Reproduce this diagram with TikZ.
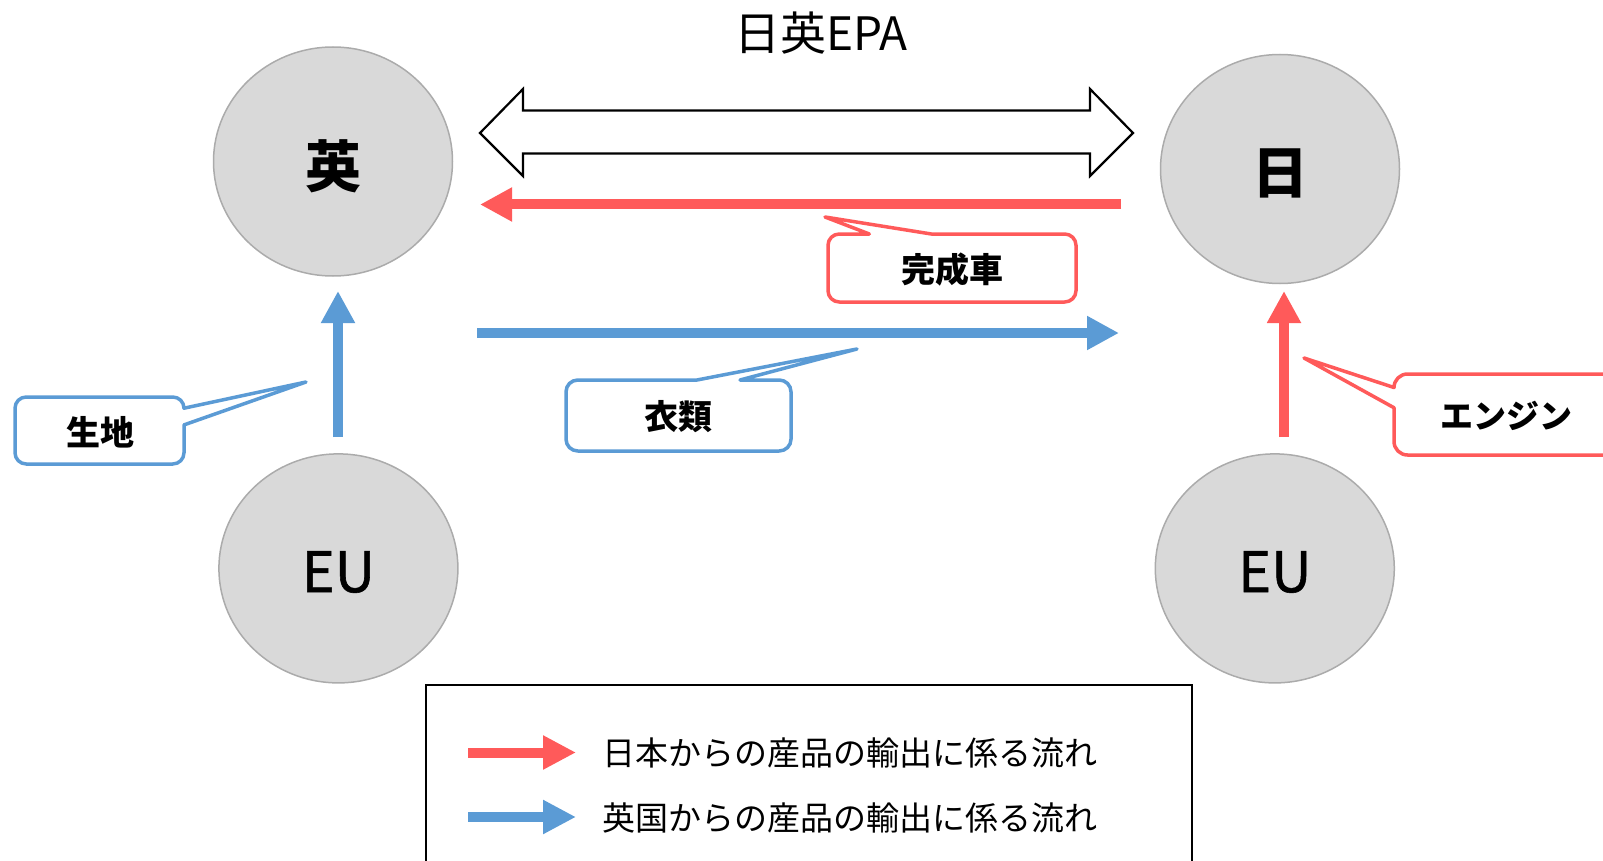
\documentclass[tikz,border=0pt]{standalone}
\usepackage{fontspec}
\setmainfont{Noto Sans CJK JP}
\newfontfamily\eufont[FakeBold=1]{Noto Sans CJK JP}
\usetikzlibrary{arrows.meta,shapes.geometric}
\definecolor{redc}{HTML}{FF5A5A}
\definecolor{bluec}{HTML}{5B9BD5}
\definecolor{circfill}{HTML}{D9D9D9}
\definecolor{circline}{HTML}{ABABAB}
\begin{document}
\begin{tikzpicture}[x=1pt,y=-1pt,
  country/.style={ellipse,draw=circline,fill=circfill,line width=1.5pt,
    minimum width=239pt,minimum height=229pt,inner sep=0pt},
  bigcjk/.style={font=\fontsize{56}{60}\selectfont\bfseries},
  biglat/.style={font=\fontsize{56}{60}\eufont},
  redflow/.style={redc,line width=10pt,-{Triangle[length=32pt,width=32pt]}},
  blueflow/.style={bluec,line width=10pt,-{Triangle[length=32pt,width=32pt]}},
  legred/.style={redc,line width=10pt,-{Triangle[length=33pt,width=32pt]}},
  legblue/.style={bluec,line width=10pt,-{Triangle[length=33pt,width=32pt]}},
  callred/.style={draw=redc,fill=white,line width=3.5pt,line join=round},
  callblue/.style={draw=bluec,fill=white,line width=3.5pt,line join=round},
  calltext/.style={font=\fontsize{34}{40}\selectfont\bfseries,inner sep=0pt},
  legtext/.style={font=\fontsize{33}{40}\selectfont,inner sep=0pt,anchor=west},
  outline/.style={draw=black,fill=white,line width=2.2pt,line join=miter}
]
\useasboundingbox (0,0) rectangle (1603,861);

% title
\node[font=\fontsize{46}{52}\selectfont,inner sep=0pt] (title) at (821,33) {日英EPA};

% countries
\node[country] (uk) at (333,161.5) {};
\node[country] (jp) at (1280,169) {};
\node[country] (euL) at (338.4,568.4) {};
\node[country] (euR) at (1274.8,568.4) {};
\node[bigcjk] (ukt) at (333,166) {英};
\node[bigcjk] (jpt) at (1280,173) {日};
\node[biglat] (euLt) at (338.4,572) {EU};
\node[biglat] (euRt) at (1274.8,572) {EU};

% double hollow arrow (EPA)
\draw[outline] (480,133) -- (523,89) -- (523,110.5) -- (1090,110.5) -- (1090,89)
  -- (1133,133) -- (1090,176) -- (1090,153.5) -- (523,153.5) -- (523,176) -- cycle;

% flow arrows
\coordinate (carS) at (1121,204.5);
\coordinate (carE) at (480,204.5);
\draw[redflow] (carS) -- (carE);
\coordinate (clS) at (477,333);
\coordinate (clE) at (1119,333);
\draw[blueflow] (clS) -- (clE);
\coordinate (fabS) at (338,437);
\coordinate (fabE) at (338,291);
\draw[blueflow] (fabS) -- (fabE);
\coordinate (engS) at (1284,437);
\coordinate (engE) at (1284,291);
\draw[redflow] (engS) -- (engE);

% callout: 完成車 (box 828..1076, 234..302)
\draw[callred] (931.3,234) -- (1064.7,234) arc[start angle=270,end angle=360,radius=11.3]
  -- (1076,290.7) arc[start angle=0,end angle=90,radius=11.3]
  -- (839.3,302) arc[start angle=90,end angle=180,radius=11.3]
  -- (828,245.3) arc[start angle=180,end angle=270,radius=11.3]
  -- (869.3,234) -- (825,217) -- cycle;
\node[calltext] (car) at (952,270) {完成車};

% callout: 生地 (box 15..184, 397..464)
\draw[callblue] (184,424.9) -- (184,452.8) arc[start angle=0,end angle=90,radius=11.2]
  -- (26.2,464) arc[start angle=90,end angle=180,radius=11.2]
  -- (15,408.2) arc[start angle=180,end angle=270,radius=11.2]
  -- (172.8,397) arc[start angle=270,end angle=360,radius=11.2]
  -- (306,382) -- cycle;
\node[calltext] (fab) at (100,432) {生地};

% callout: 衣類 (box 566..791, 380..451)
\draw[callblue] (740,380) -- (779.2,380) arc[start angle=270,end angle=360,radius=11.8]
  -- (791,439.2) arc[start angle=0,end angle=90,radius=11.8]
  -- (577.8,451) arc[start angle=90,end angle=180,radius=11.8]
  -- (566,391.8) arc[start angle=180,end angle=270,radius=11.8]
  -- (697,380) -- (857,349) -- cycle;
\node[calltext] (cloth) at (678.5,417) {衣類};

% callout: エンジン (box 1394..1618, 374..455)
\draw[callred] (1394,407.75) -- (1394,441.5) arc[start angle=180,end angle=90,radius=13.5]
  -- (1604.5,455) arc[start angle=90,end angle=0,radius=13.5]
  -- (1618,387.5) arc[start angle=360,end angle=270,radius=13.5]
  -- (1407.5,374) arc[start angle=270,end angle=180,radius=13.5]
  -- (1304,358) -- cycle;
\node[calltext,font=\fontsize{33}{40}\selectfont\bfseries] (eng) at (1506,416) {エンジン};

% legend
\draw[black,line width=2pt] (426,890) -- (426,685) -- (1192,685) -- (1192,890);
\coordinate (lrS) at (468,752.5);
\coordinate (lrE) at (576,752.5);
\draw[legred] (lrS) -- (lrE);
\coordinate (lbS) at (468,817);
\coordinate (lbE) at (576,817);
\draw[legblue] (lbS) -- (lbE);
\node[legtext] (leg1) at (602,753) {日本からの産品の輸出に係る流れ};
\node[legtext] (leg2) at (602,818) {英国からの産品の輸出に係る流れ};
\end{tikzpicture}
\end{document}
